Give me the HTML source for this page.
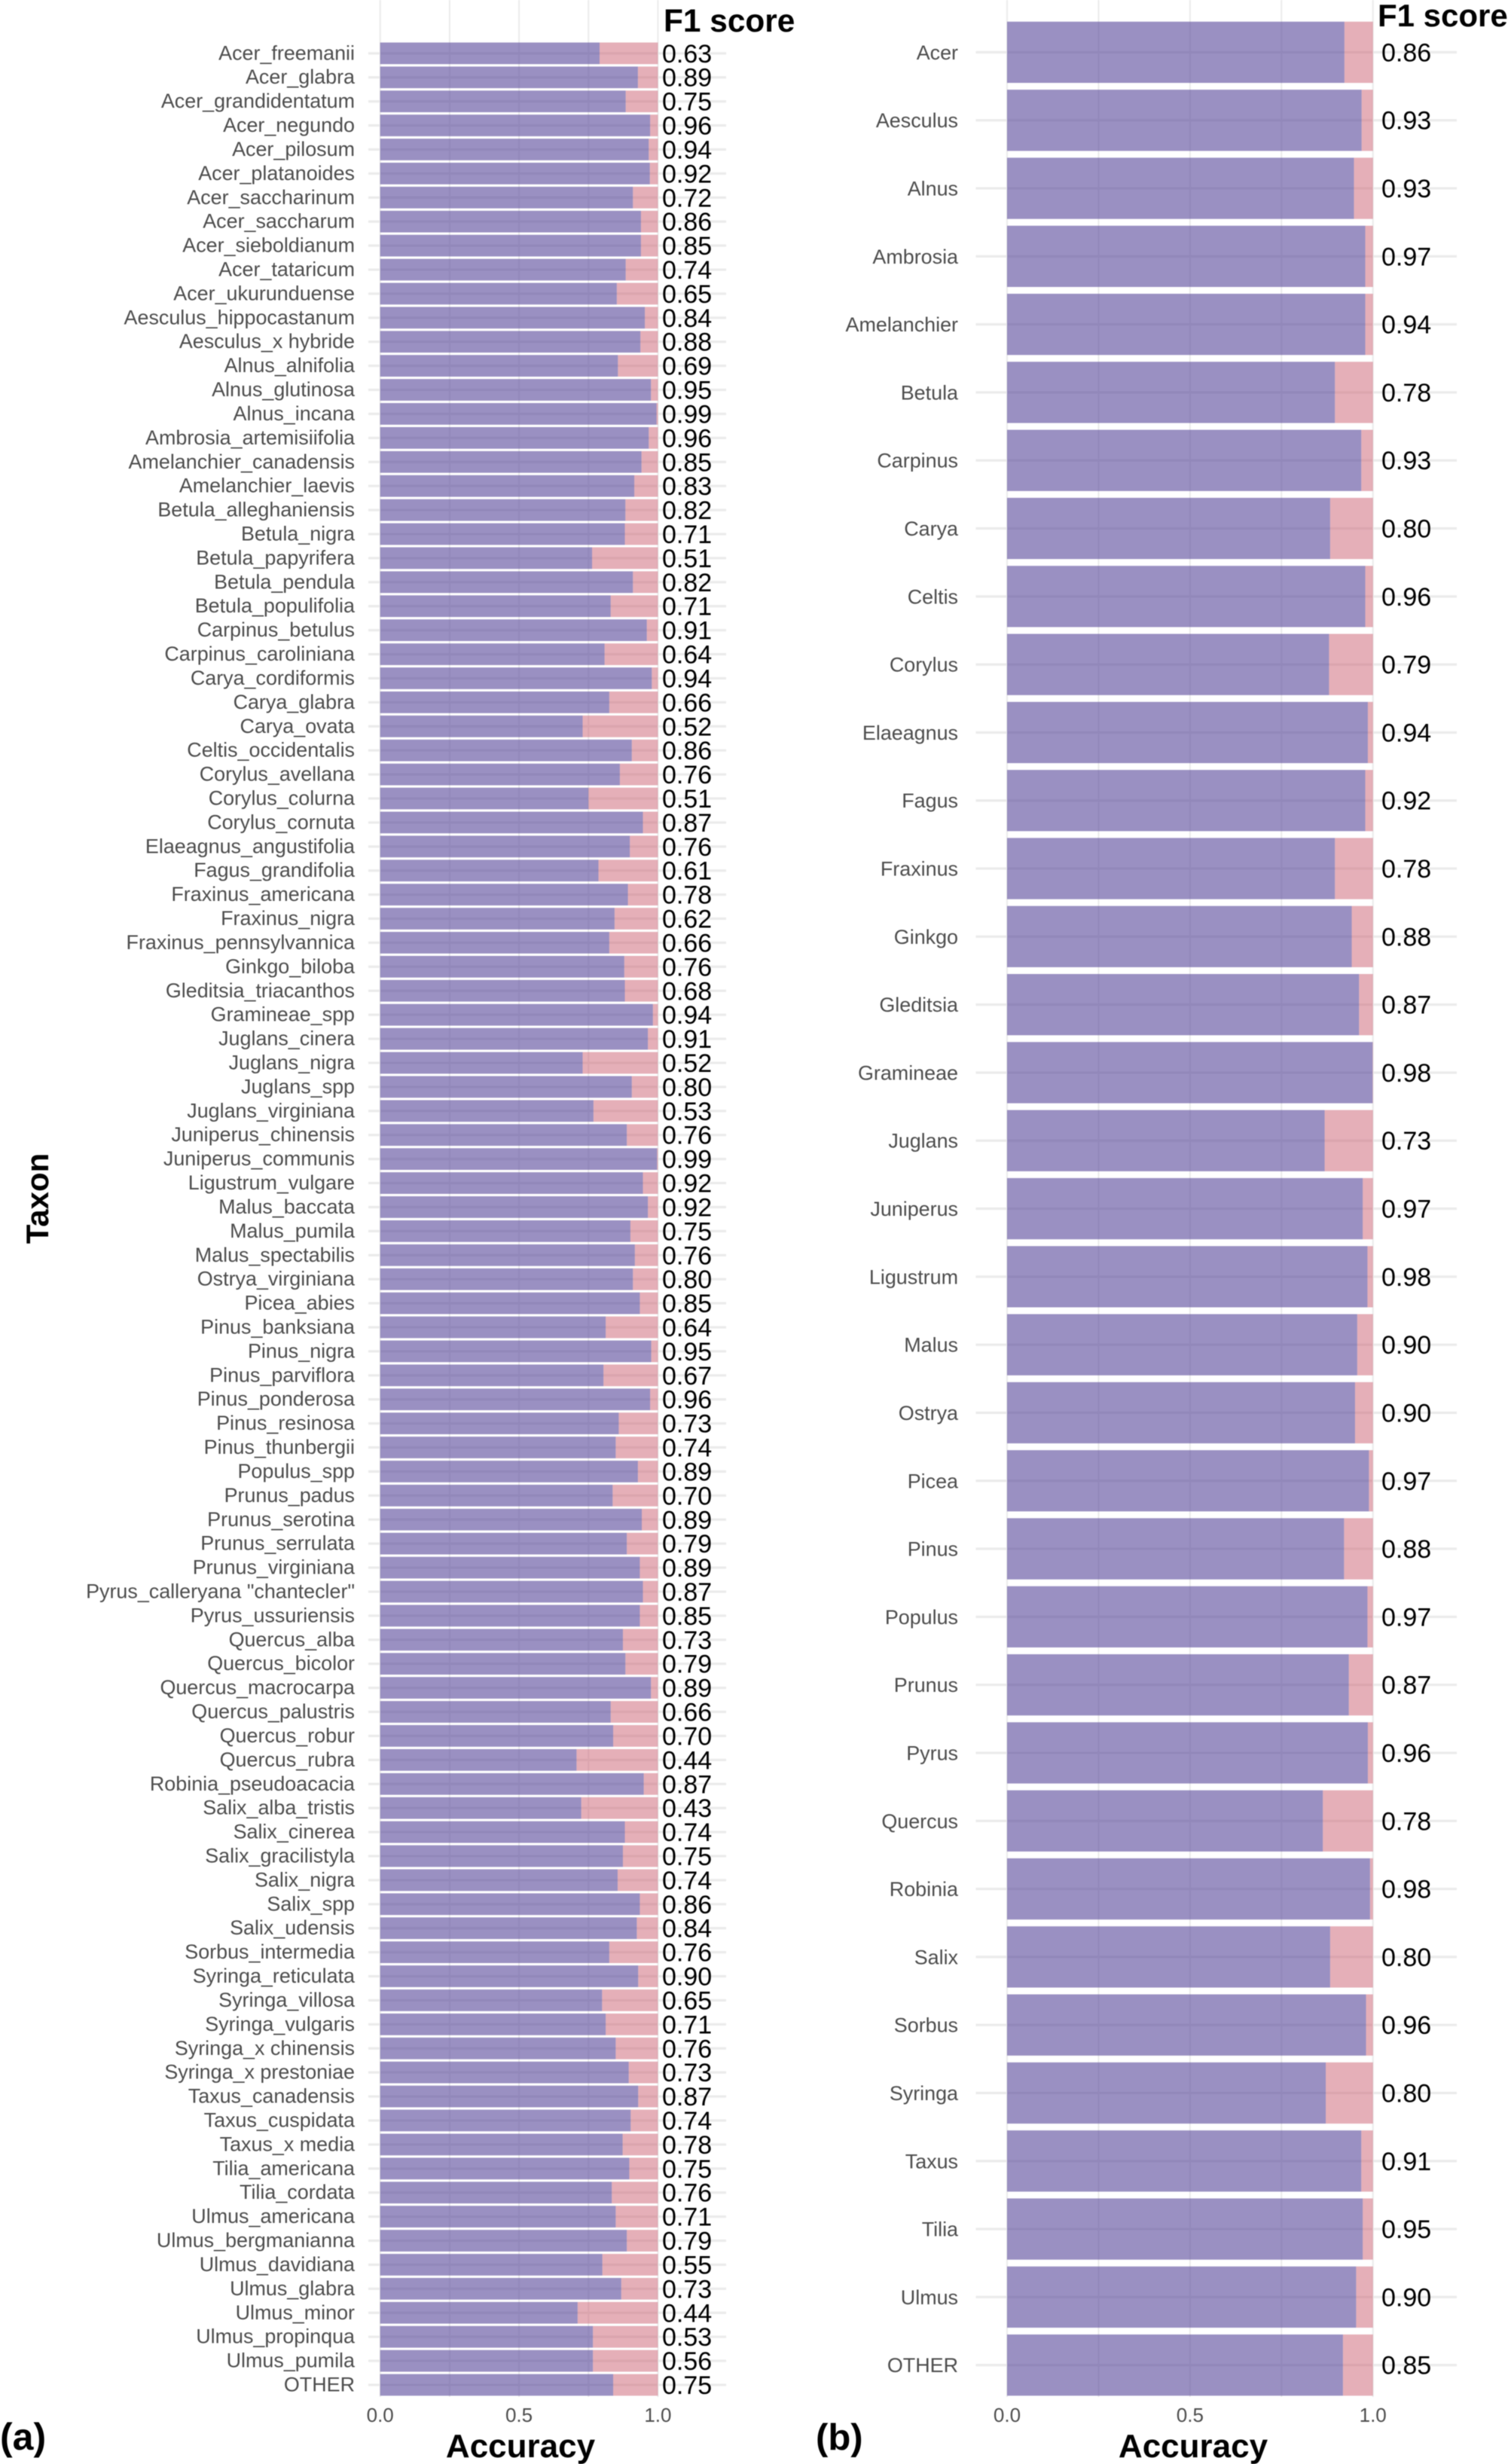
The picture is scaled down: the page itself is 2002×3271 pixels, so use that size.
<!DOCTYPE html>
<html lang="en">
<head>
<meta charset="utf-8">
<title>Accuracy and F1 score by taxon</title>
<style>
  html, body { margin: 0; padding: 0; background: #fff; }
  body { width: 2002px; height: 3271px; overflow: hidden; }
  svg { display: block; filter: blur(0.5px); font-family: "Liberation Sans", Arial, sans-serif; }
  .cat { font-size: 26.9px; fill: #4d4d4d; text-anchor: end; }
  .f1 { font-size: 34px; fill: #000; }
  .tick { font-size: 26px; fill: #4d4d4d; text-anchor: middle; }
  .title { font-weight: 700; fill: #000; }
</style>
</head>
<body>
<svg id="figure" xmlns="http://www.w3.org/2000/svg" width="2002" height="3271" viewBox="0 0 2002 3271">
  <rect x="0" y="0" width="2002" height="3271" fill="#ffffff"/>
  <g id="panel-a"></g>
  <g id="panel-b"></g>
  <text class="title" x="881" y="42" font-size="42.4">F1 score</text>
  <text class="title" x="1829" y="35" font-size="42">F1 score</text>
  <text class="title" transform="translate(64 1591) rotate(-90)" text-anchor="middle" font-size="42">Taxon</text>
  <text class="title" x="691" y="3262" text-anchor="middle" font-size="44">Accuracy</text>
  <text class="title" x="1584" y="3262" text-anchor="middle" font-size="44">Accuracy</text>
  <text class="title" x="0" y="3252" font-size="50">(a)</text>
  <text class="title" x="1083" y="3252" font-size="49">(b)</text>
</svg>
<script>
const xTicks = [0, 0.25, 0.5, 0.75, 1];
const xTickLabels = ["0.0", "", "0.5", "", "1.0"];

const taxaA = ["Acer_freemanii","Acer_glabra","Acer_grandidentatum","Acer_negundo","Acer_pilosum","Acer_platanoides","Acer_saccharinum","Acer_saccharum","Acer_sieboldianum","Acer_tataricum","Acer_ukurunduense","Aesculus_hippocastanum","Aesculus_x hybride","Alnus_alnifolia","Alnus_glutinosa","Alnus_incana","Ambrosia_artemisiifolia","Amelanchier_canadensis","Amelanchier_laevis","Betula_alleghaniensis","Betula_nigra","Betula_papyrifera","Betula_pendula","Betula_populifolia","Carpinus_betulus","Carpinus_caroliniana","Carya_cordiformis","Carya_glabra","Carya_ovata","Celtis_occidentalis","Corylus_avellana","Corylus_colurna","Corylus_cornuta","Elaeagnus_angustifolia","Fagus_grandifolia","Fraxinus_americana","Fraxinus_nigra","Fraxinus_pennsylvannica","Ginkgo_biloba","Gleditsia_triacanthos","Gramineae_spp","Juglans_cinera","Juglans_nigra","Juglans_spp","Juglans_virginiana","Juniperus_chinensis","Juniperus_communis","Ligustrum_vulgare","Malus_baccata","Malus_pumila","Malus_spectabilis","Ostrya_virginiana","Picea_abies","Pinus_banksiana","Pinus_nigra","Pinus_parviflora","Pinus_ponderosa","Pinus_resinosa","Pinus_thunbergii","Populus_spp","Prunus_padus","Prunus_serotina","Prunus_serrulata","Prunus_virginiana","Pyrus_calleryana \"chantecler\"","Pyrus_ussuriensis","Quercus_alba","Quercus_bicolor","Quercus_macrocarpa","Quercus_palustris","Quercus_robur","Quercus_rubra","Robinia_pseudoacacia","Salix_alba_tristis","Salix_cinerea","Salix_gracilistyla","Salix_nigra","Salix_spp","Salix_udensis","Sorbus_intermedia","Syringa_reticulata","Syringa_villosa","Syringa_vulgaris","Syringa_x chinensis","Syringa_x prestoniae","Taxus_canadensis","Taxus_cuspidata","Taxus_x media","Tilia_americana","Tilia_cordata","Ulmus_americana","Ulmus_bergmanianna","Ulmus_davidiana","Ulmus_glabra","Ulmus_minor","Ulmus_propinqua","Ulmus_pumila","OTHER"];
const accuracyA = [0.790,0.928,0.884,0.972,0.967,0.971,0.910,0.939,0.939,0.884,0.852,0.953,0.937,0.856,0.975,0.995,0.967,0.941,0.915,0.883,0.881,0.763,0.910,0.830,0.960,0.808,0.978,0.825,0.729,0.906,0.863,0.750,0.946,0.899,0.786,0.892,0.844,0.825,0.879,0.881,0.982,0.964,0.729,0.906,0.768,0.888,0.997,0.946,0.964,0.901,0.917,0.910,0.935,0.812,0.976,0.804,0.972,0.859,0.848,0.928,0.837,0.942,0.888,0.935,0.946,0.935,0.874,0.883,0.975,0.830,0.839,0.707,0.949,0.724,0.881,0.874,0.855,0.935,0.924,0.825,0.929,0.799,0.812,0.848,0.895,0.929,0.902,0.873,0.897,0.834,0.848,0.888,0.800,0.868,0.711,0.766,0.766,0.839];
const f1A = ["0.63","0.89","0.75","0.96","0.94","0.92","0.72","0.86","0.85","0.74","0.65","0.84","0.88","0.69","0.95","0.99","0.96","0.85","0.83","0.82","0.71","0.51","0.82","0.71","0.91","0.64","0.94","0.66","0.52","0.86","0.76","0.51","0.87","0.76","0.61","0.78","0.62","0.66","0.76","0.68","0.94","0.91","0.52","0.80","0.53","0.76","0.99","0.92","0.92","0.75","0.76","0.80","0.85","0.64","0.95","0.67","0.96","0.73","0.74","0.89","0.70","0.89","0.79","0.89","0.87","0.85","0.73","0.79","0.89","0.66","0.70","0.44","0.87","0.43","0.74","0.75","0.74","0.86","0.84","0.76","0.90","0.65","0.71","0.76","0.73","0.87","0.74","0.78","0.75","0.76","0.71","0.79","0.55","0.73","0.44","0.53","0.56","0.75"];

const taxaB = ["Acer","Aesculus","Alnus","Ambrosia","Amelanchier","Betula","Carpinus","Carya","Celtis","Corylus","Elaeagnus","Fagus","Fraxinus","Ginkgo","Gleditsia","Gramineae","Juglans","Juniperus","Ligustrum","Malus","Ostrya","Picea","Pinus","Populus","Prunus","Pyrus","Quercus","Robinia","Salix","Sorbus","Syringa","Taxus","Tilia","Ulmus","OTHER"];
const accuracyB = [0.922,0.969,0.948,0.979,0.979,0.896,0.968,0.883,0.979,0.880,0.986,0.979,0.896,0.942,0.962,0.999,0.868,0.972,0.985,0.957,0.951,0.989,0.921,0.985,0.934,0.986,0.863,0.992,0.883,0.981,0.871,0.968,0.972,0.954,0.918];
const f1B = ["0.86","0.93","0.93","0.97","0.94","0.78","0.93","0.80","0.96","0.79","0.94","0.92","0.78","0.88","0.87","0.98","0.73","0.97","0.98","0.90","0.90","0.97","0.88","0.97","0.87","0.96","0.78","0.98","0.80","0.96","0.80","0.91","0.95","0.90","0.85"];

const SVG_NS = "http://www.w3.org/2000/svg";

function linearX(left, right) {
  return function (v) { return left + v * (right - left); };
}
function bandY(firstCentre, lastCentre, count) {
  const step = (lastCentre - firstCentre) / (count - 1);
  const fn = function (i) { return firstCentre + i * step; };
  fn.bandwidth = step * 0.9;
  return fn;
}
function addRect(parent, x, y, w, h, fill, opacity) {
  const r = document.createElementNS(SVG_NS, "rect");
  r.setAttribute("x", x);
  r.setAttribute("y", y);
  r.setAttribute("width", w);
  r.setAttribute("height", h);
  r.setAttribute("fill", fill);
  if (opacity < 1) r.setAttribute("fill-opacity", opacity);
  parent.appendChild(r);
  return r;
}
function addText(parent, x, y, cls, content) {
  const t = document.createElementNS(SVG_NS, "text");
  t.setAttribute("x", x);
  t.setAttribute("y", y);
  t.setAttribute("class", cls);
  t.textContent = content;
  parent.appendChild(t);
  return t;
}

function drawPanel(group, taxa, accuracy, f1, cfg) {
  const x = linearX(cfg.x0, cfg.x1);
  const y = bandY(cfg.yFirst, cfg.yLast, taxa.length);
  const h = y.bandwidth;

  taxa.forEach(function (name, i) {
    const line = addRect(group, cfg.gridLeft, y(i) - 1.6, cfg.gridRight - cfg.gridLeft, 3.2, "#ebebeb", 1);
    
    
  });
  xTicks.forEach(function (t, i) {
    const line = addRect(group, x(t) - 1, 0, 2, cfg.gridBottom, "#ebebeb", 1);
    
    
    if (xTickLabels[i]) {
      const lab = addText(group, x(t), 3215, "tick", xTickLabels[i]);
      
      
    }
  });
  taxa.forEach(function (name, i) {
    const a = accuracy[i];
    const rest = addRect(group, x(a), y(i) - h / 2, x(1) - x(a), h, "#cb5f71", 0.5);
    
    
    const bar = addRect(group, x(0), y(i) - h / 2, x(a) - x(0), h, "#574699", 0.6);
    
    
    const cat = addText(group, cfg.labelRight, y(i) + cfg.labelDy, "cat", name);
    
    
    const val = addText(group, cfg.f1Left, y(i) + 12, "f1", f1[i]);
    
    
  });
}

drawPanel(document.getElementById("panel-a"), taxaA, accuracyA, f1A, {
  x0: 504.7, x1: 873.4, yFirst: 70.8, yLast: 3166,
  gridLeft: 489, gridRight: 964, gridBottom: 3182,
  labelRight: 471, labelDy: 8.5, f1Left: 879
});
drawPanel(document.getElementById("panel-b"), taxaB, accuracyB, f1B, {
  x0: 1337, x1: 1822.7, yFirst: 69.4, yLast: 3139.7,
  gridLeft: 1295.5, gridRight: 1934, gridBottom: 3182,
  labelRight: 1272, labelDy: 9.5, f1Left: 1834
});
</script>
</body>
</html>
